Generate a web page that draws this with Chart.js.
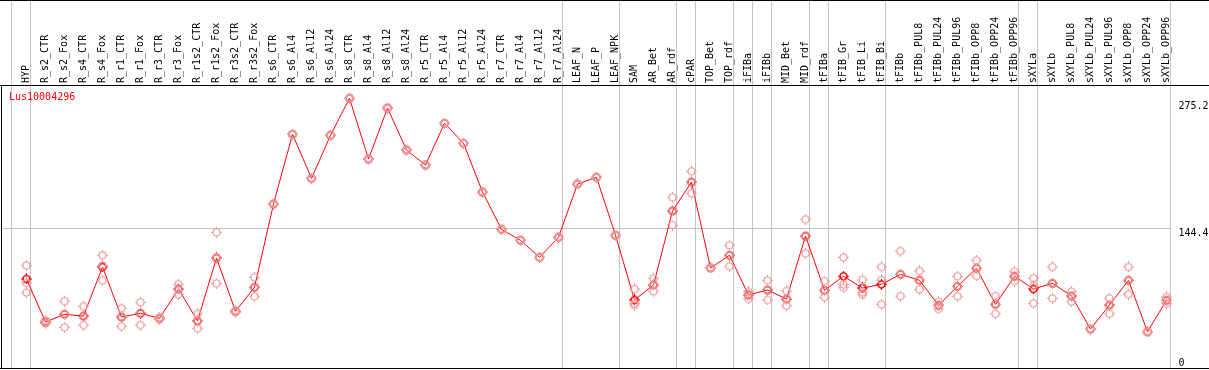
<!DOCTYPE html>
<html>
<head>
<meta charset="utf-8">
<title>Lus10004296</title>
<script src="https://cdn.jsdelivr.net/npm/chart.js@4.4.1/dist/chart.umd.min.js"></script>
<style>
  html, body { margin: 0; padding: 0; background: #fff; overflow: hidden; }
  canvas { display: block; }
</style>
</head>
<body>
<!-- 4px mas alto: Chart.js deja un margen inferior fijo, lo que sobra queda fuera de la ventana -->
<canvas id="grafico" width="1209" height="374"></canvas>
<script>
const titulo = 'Lus10004296';

const categorias = [
  'HYP',
  'R_s2_CTR', 'R_s2_Fox', 'R_s4_CTR', 'R_s4_Fox', 'R_r1_CTR', 'R_r1_Fox', 'R_r3_CTR', 'R_r3_Fox',
  'R_r1s2_CTR', 'R_r1s2_Fox', 'R_r3s2_CTR', 'R_r3s2_Fox',
  'R_s6_CTR', 'R_s6_Al4', 'R_s6_Al12', 'R_s6_Al24', 'R_s8_CTR', 'R_s8_Al4', 'R_s8_Al12', 'R_s8_Al24',
  'R_r5_CTR', 'R_r5_Al4', 'R_r5_Al12', 'R_r5_Al24', 'R_r7_CTR', 'R_r7_Al4', 'R_r7_Al12', 'R_r7_Al24',
  'LEAF_N', 'LEAF_P', 'LEAF_NPK',
  'SAM', 'AR_Bet', 'AR_rdf', 'cPAR', 'TOP_Bet', 'TOP_rdf', 'iFIBa', 'iFIBb', 'MID_Bet', 'MID_rdf',
  'tFIBa', 'tFIB_Gr', 'tFIB_Li', 'tFIB_Bi',
  'tFIBb', 'tFIBb_PUL8', 'tFIBb_PUL24', 'tFIBb_PUL96', 'tFIBb_OPP8', 'tFIBb_OPP24', 'tFIBb_OPP96',
  'sXYLa', 'sXYLb', 'sXYLb_PUL8', 'sXYLb_PUL24', 'sXYLb_PUL96', 'sXYLb_OPP8', 'sXYLb_OPP24', 'sXYLb_OPP96'
];

// media de las replicas (linea roja)
const media = [
  92, 47.5, 55.5, 53.7, 104.4, 52.7, 56.5, 51.3, 81.7, 48.6, 113.7, 58.6, 83.4,
  169.5, 241.5, 196, 240.5, 278.7, 216, 268.7, 225.3, 209.8, 252.9, 232.2, 181.9,
  143.3, 132, 114.4, 135.1, 190.2, 197.1, 137.2,
  70.3, 85.8, 162.3, 192.2, 103.4, 116.5, 75.5, 80.6, 71.3, 136.4,
  80.3, 94.8, 82.7, 86.5, 96.8, 90.6, 64.8, 84.4, 103, 65.8, 94.8,
  81.7, 87.5, 74.4, 40.3, 65.1, 90.6, 37.5, 70
];

// replicas individuales (circulos rosados)
const rep1 = [
  106, 49.5, 69, 63.8, 116.5, 61.7, 67.9, 52.5, 86.5, 56.1, 140.2, 59.5, 93.7,
  169.5, 241.5, 196, 240.5, 278.7, 216, 268.7, 225.3, 209.8, 252.9, 232.2, 181.9,
  143.3, 132, 114.4, 135.1, 190.2, 197.1, 137.2,
  81.7, 92.7, 176.4, 203.3, 103.4, 126.8, 78.9, 90.6, 79.6, 153.7,
  89.9, 114.4, 91, 104.4, 120.9, 100.3, 68.5, 94.8, 111.3, 74.4, 99.5,
  92.7, 104.4, 78.9, 40.3, 72, 104.4, 37.5, 73.4
];
const rep2 = [
  78, 46, 42, 44.4, 90.6, 43.1, 44.4, 50, 76.2, 41, 87.5, 57.5, 74.1,
  169.5, 241.5, 196, 240.5, 278.7, 216, 268.7, 225.3, 209.8, 252.9, 232.2, 181.9,
  143.3, 132, 114.4, 135.1, 190.2, 197.1, 137.2,
  65.1, 79.3, 147.8, 180.6, 103.4, 105.1, 71.6, 70.3, 64.4, 118.5,
  73.1, 83, 75.7, 65.8, 74.4, 81.3, 61, 74.1, 95.4, 56.1, 89.9,
  66.8, 72, 68.5, 40.3, 56.1, 76.2, 37.5, 66.5
];
const rep3 = [
  88, 47, 55.5, 53, 106, 53, 57, 51.3, 82, 48.6, 113.5, 58.6, 83,
  169.5, 241.5, 196, 240.5, 278.7, 216, 268.7, 225.3, 209.8, 252.9, 232.2, 181.9,
  143.3, 132, 114.4, 135.1, 190.2, 197.1, 137.2,
  66.8, 85.8, 162.3, 192.2, 103.4, 116.5, 75.5, 80.6, 71.3, 136.4,
  80.3, 86.5, 78.2, 91, 96.8, 90.6, 64.8, 84.4, 103, 65.8, 94.8,
  85, 87.5, 74.4, 40.3, 65.1, 90.6, 37.5, 70
];

const yTicks = [0, 144.4, 275.2];
const lineaRef = 144.4;

// primera muestra de cada grupo de tejido (separadores grises)
const inicioGrupos = [
  'HYP', 'R_s2_CTR', 'LEAF_N', 'SAM', 'cPAR', 'TOP_Bet', 'iFIBa', 'iFIBb',
  'MID_Bet', 'tFIBa', 'tFIB_Gr', 'tFIBb', 'sXYLa', 'sXYLb'
];

const fuente = { family: '"DejaVu Sans Mono", monospace', size: 10, lineHeight: 1 };

// =====================
// MARCADORES
// =====================
function marcador(color, grosor) {
  const c = document.createElement('canvas');
  c.width = 11;
  c.height = 11;
  const g = c.getContext('2d');
  g.strokeStyle = color;
  g.lineWidth = grosor;
  g.beginPath();
  g.arc(5.5, 5.5, 3.5, 0, Math.PI * 2);
  g.stroke();
  g.fillStyle = color;
  g.fillRect(5, 0, 1, 2);
  g.fillRect(5, 9, 1, 2);
  g.fillRect(0, 5, 2, 1);
  g.fillRect(9, 5, 2, 1);
  return c;
}

const puntoRojo = marcador('#ff0000', 1.7);
const puntoRosa = marcador('#ee9a9a', 1.2);

// =====================
// MARCO, SEPARADORES Y TITULO
// =====================
const marco = {
  id: 'marco',
  beforeDatasetsDraw(chart) {
    const { ctx, chartArea, scales: { x, y } } = chart;
    const x0 = x.getPixelForValue(0);
    const paso = x.getPixelForValue(1) - x0;
    const lineas = inicioGrupos.map(n => categorias.indexOf(n)).concat(categorias.length);
    ctx.save();
    ctx.fillStyle = '#c4c4c4';
    let ultima = 0;
    lineas.forEach(i => {
      const px = Math.floor(x0 + paso * i - 15);
      ctx.fillRect(px, 0, 1, chartArea.bottom);
      ultima = px;
    });
    ctx.fillRect(1, Math.round(y.getPixelForValue(lineaRef)), ultima, 1);
    ctx.restore();
  },
  afterDraw(chart) {
    const { ctx, chartArea, width } = chart;
    ctx.save();
    ctx.fillStyle = '#000';
    ctx.fillRect(0, 0, width, 1);
    ctx.fillRect(0, chartArea.top, width, 1);
    ctx.fillRect(0, Math.round(chartArea.bottom), width, 1);
    ctx.fillRect(1, chartArea.top, 1, chartArea.bottom - chartArea.top);
    ctx.fillStyle = '#ff0000';
    ctx.font = '10px "DejaVu Sans Mono", monospace';
    ctx.textBaseline = 'middle';
    ctx.fillText(titulo, 9, chartArea.top + 12);
    ctx.restore();
  }
};

// =====================
// GRAFICO
// =====================
const replica = (valores) => ({
  data: valores,
  showLine: false,
  pointStyle: puntoRosa,
  pointRadius: 5,
  clip: false
});

new Chart(document.getElementById('grafico'), {
  type: 'line',
  data: {
    labels: categorias,
    datasets: [
      replica(rep1),
      replica(rep2),
      replica(rep3),
      {
        data: media,
        borderColor: '#ff0000',
        borderWidth: 1,
        tension: 0,
        pointStyle: puntoRojo,
        pointRadius: 5,
        clip: false
      }
    ]
  },
  options: {
    responsive: false,
    animation: false,
    layout: { padding: { left: 26.5, top: 0, right: 0, bottom: 0 } },
    plugins: {
      legend: { display: false },
      tooltip: { enabled: false }
    },
    scales: {
      x: {
        position: 'top',
        offset: false,
        grid: { display: false, drawTicks: false },
        border: { display: false },
        ticks: {
          autoSkip: false,
          minRotation: 90,
          maxRotation: 90,
          padding: 2,
          labelOffset: 10,
          color: '#000',
          font: fuente
        },
        afterFit: s => { s.height = 85; s.paddingLeft = 0; s.paddingRight = 0; }
      },
      y: {
        position: 'right',
        min: 0,
        max: 292.5,
        grid: { display: false, drawTicks: false },
        border: { display: false },
        afterBuildTicks: s => { s.ticks = yTicks.map(v => ({ value: v })); },
        ticks: {
          padding: 12,
          color: '#000',
          font: fuente,
          // el 0 va encima de su marca, los demas debajo
          callback: v => (v === 0 ? ['0', ''] : ['', String(v)])
        },
        afterFit: s => { s.width = 42.5; s.paddingTop = 0; s.paddingBottom = 0; }
      }
    }
  },
  plugins: [marco]
});
</script>
</body>
</html>
